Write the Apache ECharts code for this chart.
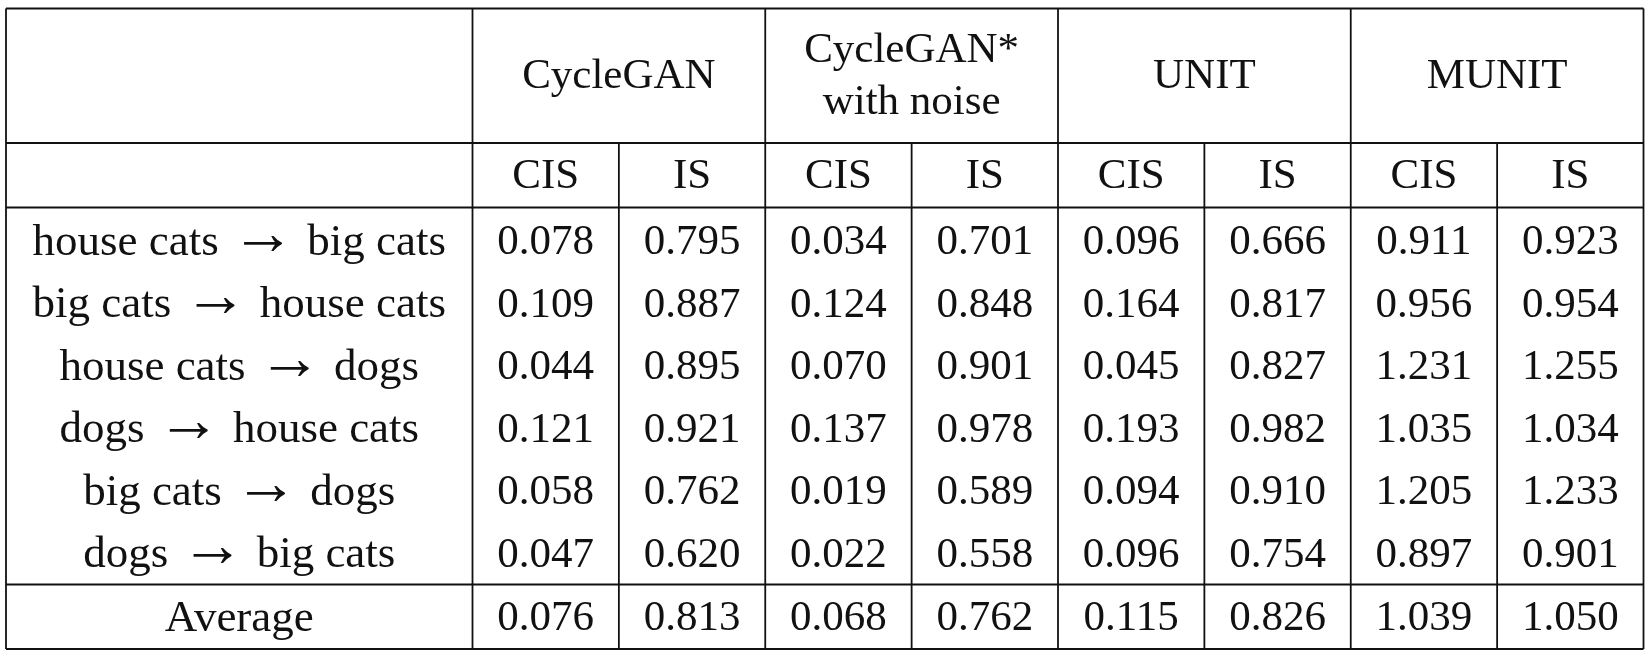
<!DOCTYPE html>
<html>
<head>
<meta charset="utf-8">
<script src="https://cdn.jsdelivr.net/npm/echarts@6/dist/echarts.min.js"></script>
<style>
html,body{margin:0;padding:0;background:#fff;}
#chart{width:1652px;height:660px;}
</style>
</head>
<body>
<div id="chart"></div>
<script>
// ---- data ----
const rowLabels = [
  ['house cats', 'big cats'],
  ['big cats', 'house cats'],
  ['house cats', 'dogs'],
  ['dogs', 'house cats'],
  ['big cats', 'dogs'],
  ['dogs', 'big cats']
];
const averageLabel = 'Average';
const methods = ['CycleGAN', 'CycleGAN*\nwith noise', 'UNIT', 'MUNIT'];
const metrics = ['CIS', 'IS'];

const cycleganCIS = [0.078, 0.109, 0.044, 0.121, 0.058, 0.047];
const cycleganIS  = [0.795, 0.887, 0.895, 0.921, 0.762, 0.620];
const noiseCIS    = [0.034, 0.124, 0.070, 0.137, 0.019, 0.022];
const noiseIS     = [0.701, 0.848, 0.901, 0.978, 0.589, 0.558];
const unitCIS     = [0.096, 0.164, 0.045, 0.193, 0.094, 0.096];
const unitIS      = [0.666, 0.817, 0.827, 0.982, 0.910, 0.754];
const munitCIS    = [0.911, 0.956, 1.231, 1.035, 1.205, 0.897];
const munitIS     = [0.923, 0.954, 1.255, 1.034, 1.233, 0.901];

const averageValues = [0.076, 0.813, 0.068, 0.762, 0.115, 0.826, 1.039, 1.050];

// ---- layout (in axis units) ----
const W0 = 3.187;             // width of label column, in data-column units
const NCOL = 8;
const XMAX = W0 + NCOL;
const U = 62.5;               // px per row unit
const yH1 = 134.5 / U;
const yH2 = 199 / U;
const yDataEnd = 576 / U;
const YMAX = 640.5 / U;
const headerCenter = 68.5 / U;
const subCenter = 168.5 / U;
const firstRowCenter = 234.5 / U;
const avgCenter = 610.5 / U;

const columns = [cycleganCIS, cycleganIS, noiseCIS, noiseIS, unitCIS, unitIS, munitCIS, munitIS];

// build text cells
const texts = [];
const textKinds = [];
const textData = [];
function addText(x, y, t, kind) { textData.push([x, y, texts.length]); texts.push(t); textKinds.push(kind || 'plain'); }
methods.forEach((m, k) => addText(W0 + 2 * k + 1, headerCenter, m));
for (let j = 0; j < NCOL; j++) addText(W0 + j + 0.5, subCenter, metrics[j % 2]);
rowLabels.forEach((lab, i) => addText(W0 / 2, firstRowCenter + i, lab[0] + ' {a|\u2192} ' + lab[1], 'label'));
columns.forEach((col, j) => col.forEach((v, i) => addText(W0 + j + 0.5, firstRowCenter + i, v.toFixed(3))));
addText(W0 / 2, avgCenter, averageLabel, 'label');
averageValues.forEach((v, j) => addText(W0 + j + 0.5, avgCenter, v.toFixed(3)));

// build rules
const lineData = [];
[0, yH1, yH2, yDataEnd, YMAX].forEach(y => lineData.push([0, y, XMAX, y]));
[0, W0, W0 + 2, W0 + 4, W0 + 6, W0 + 8].forEach(x => lineData.push([x, 0, x, YMAX]));
[W0 + 1, W0 + 3, W0 + 5, W0 + 7].forEach(x => lineData.push([x, yH1, x, YMAX]));

const FONT = '"Liberation Serif", "Times New Roman", serif';
const chart = echarts.init(document.getElementById('chart'), null, {renderer: 'canvas'});
chart.setOption({
  animation: false,
  backgroundColor: '#fff',
  grid: {left: 6, right: 8.5, top: 8.5, bottom: 11},
  xAxis: {type: 'value', min: 0, max: XMAX, show: false},
  yAxis: {type: 'value', min: 0, max: YMAX, inverse: true, show: false},
  series: [
    {
      type: 'custom',
      clip: false,
      data: lineData,
      renderItem: function (params, api) {
        const p1 = api.coord([api.value(0), api.value(1)]);
        const p2 = api.coord([api.value(2), api.value(3)]);
        return {
          type: 'line',
          shape: {x1: p1[0], y1: p1[1], x2: p2[0], y2: p2[1]},
          style: {stroke: '#111', lineWidth: 1.8}
        };
      }
    },
    {
      type: 'custom',
      clip: false,
      data: textData,
      renderItem: function (params, api) {
        const p = api.coord([api.value(0), api.value(1)]);
        const idx = api.value(2);
        const isLabel = textKinds[idx] === 'label';
        const size = isLabel ? 45 : 43;
        return {
          type: 'text',
          x: p[0], y: p[1],
          style: {
            text: texts[idx],
            fill: '#111',
            font: size + 'px ' + FONT,
            align: 'center',
            verticalAlign: 'middle',
            lineHeight: 52,
            rich: {
              a: {
                fontFamily: '"Liberation Serif", serif',
                fontSize: 64,
                fill: '#111',
                padding: [0, 1, 12, 1],
                lineHeight: 52,
                verticalAlign: 'middle'
              }
            }
          }
        };
      }
    }
  ]
});
</script>
</body>
</html>
